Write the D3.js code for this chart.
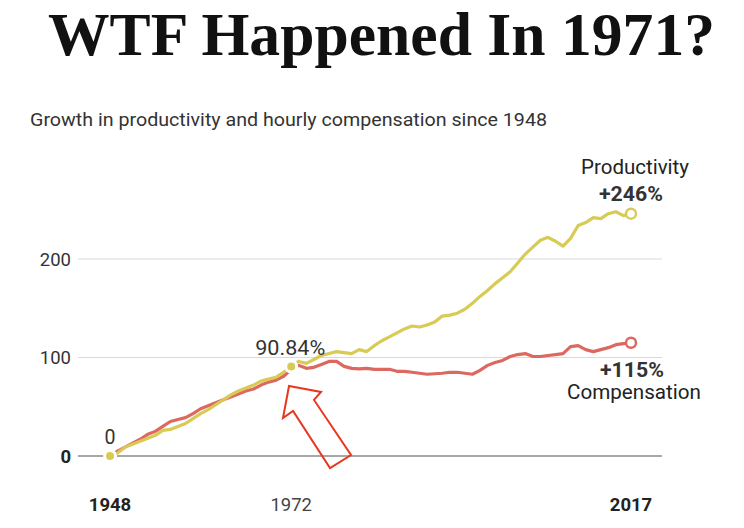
<!DOCTYPE html>
<html>
<head>
<meta charset="utf-8">
<script src="https://cdn.jsdelivr.net/npm/d3@7"></script>
<style>
  html, body { margin: 0; padding: 0; background: #fff; }
  svg { display: block; }
</style>
</head>
<body>
<svg id="chart" width="744" height="528"></svg>
<script>
const years = d3.range(1948, 2018);
const productivity = [
  0, 3, 9, 12, 15, 18, 21, 26, 27, 30,
  33, 38, 43, 47, 52, 57, 62, 66, 69, 72,
  76, 78, 80, 85, 90.84, 96, 94, 98, 102, 104,
  106, 105, 104, 108, 106, 112, 117, 121, 125, 129,
  132, 131, 133, 136, 142, 143, 145, 149, 155, 162,
  168, 175, 181, 187, 196, 205, 212, 219, 222, 218,
  213, 221, 234, 237, 242, 241, 246, 248, 244, 246
];
const compensation = [
  0, 5, 9, 13, 17, 22, 25, 30, 35, 37,
  39, 43, 48, 51, 54, 57, 60, 63, 66, 68,
  72, 75, 77, 81, 88, 92, 89, 90, 93, 96,
  96, 91, 89, 88.5, 89, 88, 88, 88, 86, 86,
  85, 84, 83, 83.5, 84, 85, 85, 84, 83, 87,
  92, 95, 97, 101, 103, 104, 101, 101, 102, 103,
  104, 111, 112, 108, 106, 108, 110, 113, 114, 115
];
const yTicks = [0, 100, 200];
const xTickYears = [1948, 1972, 2017];
const xTickLabels = ["1948", "1972", "2017"];
const titleText = "WTF Happened In 1971?";
const subtitleText = "Growth in productivity and hourly compensation since 1948";
const highlightYear = 1972;
const highlightLabel = "90.84%";
const startLabel = "0";
const prodLabel = ["Productivity", "+246%"];
const compLabel = ["+115%", "Compensation"];
// annotation arrow outline in data units [year, value]
const arrowShape = [
  [1971.71, 71.1], [1975.95, 65.0], [1975.02, 56.9], [1979.92, 1.0],
  [1977.14, -12.2], [1972.24, 45.7], [1970.91, 38.6]
];

const svg = d3.select("#chart");
const x = d3.scaleLinear().domain([1948, 2017]).range([110, 631]);
const y = d3.scaleLinear().domain([0, 200]).range([456, 259]);

const YELLOW = "#d8cb55";
const RED = "#dc6860";
const SANS = "Roboto, 'Liberation Sans', Arial, sans-serif";

// Title
svg.append("text")
  .attr("x", 48).attr("y", 55)
  .attr("font-family", "'Liberation Serif', 'DejaVu Serif', serif")
  .attr("font-weight", "bold").attr("font-size", 61)
  .attr("fill", "#111")
  .attr("textLength", 667).attr("lengthAdjust", "spacingAndGlyphs")
  .text(titleText);

// Subtitle
svg.append("text")
  .attr("x", 30).attr("y", 126)
  .attr("font-family", SANS).attr("font-size", 18)
  .attr("fill", "#333")
  .attr("textLength", 517).attr("lengthAdjust", "spacingAndGlyphs")
  .text(subtitleText);

// Grid lines
svg.append("g").selectAll("line").data(yTicks).join("line")
  .attr("x1", 78).attr("x2", 662)
  .attr("y1", d => y(d)).attr("y2", d => y(d))
  .attr("stroke", d => d === 0 ? "#8a8a8a" : "#d9d9d9")
  .attr("stroke-width", d => d === 0 ? 1.5 : 1.2);

// Y labels
svg.append("g").selectAll("text").data(yTicks).join("text")
  .attr("x", 71).attr("y", d => y(d) + 6.5)
  .attr("text-anchor", "end")
  .attr("font-family", SANS).attr("font-size", 18.5)
  .attr("font-weight", d => d === 0 ? "bold" : "normal")
  .attr("fill", d => d === 0 ? "#222" : "#333")
  .text(d => d);

// X labels
svg.append("g").selectAll("text").data(xTickYears).join("text")
  .attr("x", d => x(d)).attr("y", 511)
  .attr("text-anchor", "middle")
  .attr("font-family", SANS).attr("font-size", 18.5)
  .attr("font-weight", (d, i) => i === 1 ? "normal" : "bold")
  .attr("fill", (d, i) => i === 1 ? "#444" : "#222")
  .text((d, i) => xTickLabels[i]);

const line = d3.line().x(d => x(d[0])).y(d => y(d[1]));
const compData = years.map((yr, i) => [yr, compensation[i]]);
const prodData = years.map((yr, i) => [yr, productivity[i]]);

svg.append("path").datum(compData)
  .attr("d", line).attr("fill", "none")
  .attr("stroke", RED).attr("stroke-width", 3.2)
  .attr("stroke-linejoin", "round").attr("stroke-linecap", "round");
svg.append("path").datum(prodData)
  .attr("d", line).attr("fill", "none")
  .attr("stroke", YELLOW).attr("stroke-width", 3.2)
  .attr("stroke-linejoin", "round").attr("stroke-linecap", "round");

// filled dots at start and 1972
const hiIdx = years.indexOf(highlightYear);
svg.append("g").selectAll("circle")
  .data([[years[0], productivity[0]], [highlightYear, productivity[hiIdx]]])
  .join("circle")
  .attr("cx", d => x(d[0])).attr("cy", d => y(d[1]))
  .attr("r", 5.5)
  .attr("fill", YELLOW).attr("stroke", "#fff").attr("stroke-width", 3);

// open end circles
const last = years.length - 1;
svg.append("circle")
  .attr("cx", x(years[last])).attr("cy", y(productivity[last])).attr("r", 5)
  .attr("fill", "#fff").attr("stroke", YELLOW).attr("stroke-width", 2.5);
svg.append("circle")
  .attr("cx", x(years[last])).attr("cy", y(compensation[last])).attr("r", 5)
  .attr("fill", "#fff").attr("stroke", RED).attr("stroke-width", 2.5);

function label(txt, cx, by, size, weight, fill, len) {
  svg.append("text")
    .attr("x", cx - len / 2).attr("y", by)
    .attr("font-family", SANS).attr("font-size", size)
    .attr("font-weight", weight).attr("fill", fill)
    .attr("textLength", len).attr("lengthAdjust", "spacingAndGlyphs")
    .text(txt);
}

// point labels
label(startLabel, x(years[0]), y(0) - 12, 20, "normal", "#333", 11);
label(highlightLabel, x(highlightYear) - 1, y(productivity[hiIdx]) - 12, 20, "normal", "#333", 70);

// series labels
label(prodLabel[0], 635, 174, 20, "normal", "#222", 108);
label(prodLabel[1], 631, 201, 21, "bold", "#333", 64);
label(compLabel[0], 632, 377, 21, "bold", "#333", 64);
label(compLabel[1], 634, 399, 20, "normal", "#222", 134);

// annotation arrow
svg.append("path")
  .datum(arrowShape)
  .attr("d", d3.line().x(d => x(d[0])).y(d => y(d[1])).curve(d3.curveLinearClosed))
  .attr("fill", "none").attr("stroke", "#e8371f").attr("stroke-width", 2)
  .attr("stroke-linejoin", "miter");
</script>
</body>
</html>
